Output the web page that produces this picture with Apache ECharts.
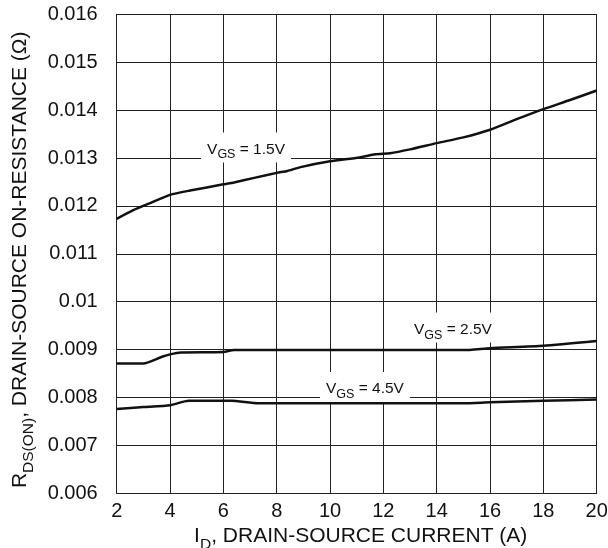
<!DOCTYPE html>
<html><head><meta charset="utf-8">
<script src="https://cdn.jsdelivr.net/npm/echarts@6/dist/echarts.min.js"></script>
<style>html,body{margin:0;padding:0;background:#fff}#c{width:608px;height:548px}</style>
</head><body><div id="c"></div>
<script>
var xTicks = [2,4,6,8,10,12,14,16,18,20];
var yTicks = [0.006,0.007,0.008,0.009,0.01,0.011,0.012,0.013,0.014,0.015,0.016];
var vgs15 = [[2,0.01173],[2.62,0.01191],[3.3,0.01207],[4,0.01223],[4.75,0.01232],[6,0.01245],[6.4,0.01249],[7.2,0.01259],[8,0.01269],[8.4,0.01273],[8.9,0.01281],[10,0.01293],[11.1,0.01301],[11.7,0.01308],[12.25,0.01310],[13,0.01318],[14,0.01331],[15,0.01343],[16,0.01359],[17,0.01381],[18,0.01402],[19,0.01421],[20,0.01441]];
var vgs25 = [[2,0.00871],[3,0.00871],[3.7,0.00885],[4,0.00890],[4.4,0.00894],[6,0.00895],[6.4,0.00899],[8,0.00899],[10,0.00899],[12,0.00899],[14,0.00899],[15,0.00899],[16,0.00903],[18,0.00908],[20,0.00918]];
var vgs45 = [[2,0.00776],[3,0.00780],[4,0.00784],[4.7,0.00793],[6.3,0.00793],[7.3,0.00788],[10,0.00788],[12,0.00788],[15,0.00788],[16,0.00790],[18,0.00793],[20,0.00796]];
var labels = [
  {name:'1.5V', coord:[6.85,0.01322]},
  {name:'2.5V', coord:[14.61,0.00946]},
  {name:'4.5V', coord:[11.31,0.00822]}
];
var FONT = 'Liberation Sans';
var rich = {
  a:{fontSize:15.5, fontFamily:FONT, color:'#111', lineHeight:20, verticalAlign:'bottom'},
  b:{fontSize:12.5, fontFamily:FONT, color:'#111', lineHeight:20, verticalAlign:'bottom', padding:[0,0,-4,0]}
};
var titleRich = {
  a:{fontSize:21, fontFamily:FONT, color:'#111', lineHeight:26, verticalAlign:'bottom'},
  b:{fontSize:15.5, fontFamily:FONT, color:'#111', lineHeight:26, verticalAlign:'bottom', padding:[0,0,-6,0]}
};
function mk(data, lab){
  return {
    type:'line', data:data, showSymbol:false, symbol:'none', smooth:0.2,
    lineStyle:{color:'#111', width:2.5}, silent:true, z:3,
    markPoint:{symbol:'circle', symbolSize:0, silent:true,
      data:[{coord:lab.coord, value:lab.name}],
      label:{show:true, position:'inside', formatter:'{a|V}{b|GS}{a| = '+lab.name+'}', rich:rich,
        backgroundColor:'#fff', padding:[5,6,5,6]}}
  };
}
var chart = echarts.init(document.getElementById('c'));
chart.setOption({
  animation:false,
  backgroundColor:'#fff',
  grid:{left:116.7, right:11.3, top:14.3, bottom:54.7, containLabel:false, outerBoundsMode:'none'},
  xAxis:{type:'value', min:2, max:20, interval:2,
    axisLine:{show:true, lineStyle:{color:'#222', width:1}},
    axisTick:{show:false},
    splitLine:{show:true, lineStyle:{color:'#222', width:1}},
    axisLabel:{fontFamily:FONT, fontSize:20, color:'#111', margin:8},
    name:'{a|I}{b|D}{a|, DRAIN-SOURCE CURRENT (A)}', nameLocation:'middle', nameGap:21,
    nameTextStyle:{rich:titleRich, padding:[0,0,0,8]}
  },
  yAxis:{type:'value', min:0.006, max:0.016, interval:0.001,
    axisLine:{show:true, lineStyle:{color:'#222', width:1}},
    axisTick:{show:false},
    splitLine:{show:true, lineStyle:{color:'#222', width:1}},
    axisLabel:{fontFamily:FONT, fontSize:20, color:'#111', margin:19,
      formatter:function(v){return parseFloat(v.toFixed(3)).toString();}},
    name:'{a|R}{b|DS(ON)}{a|, DRAIN-SOURCE ON-RESISTANCE (Ω)}', nameLocation:'middle', nameGap:86, nameRotate:90,
    nameTextStyle:{rich:titleRich, padding:[0,12,0,0]}
  },
  series:[mk(vgs15,labels[0]), mk(vgs25,labels[1]), mk(vgs45,labels[2])]
});
</script></body></html>
